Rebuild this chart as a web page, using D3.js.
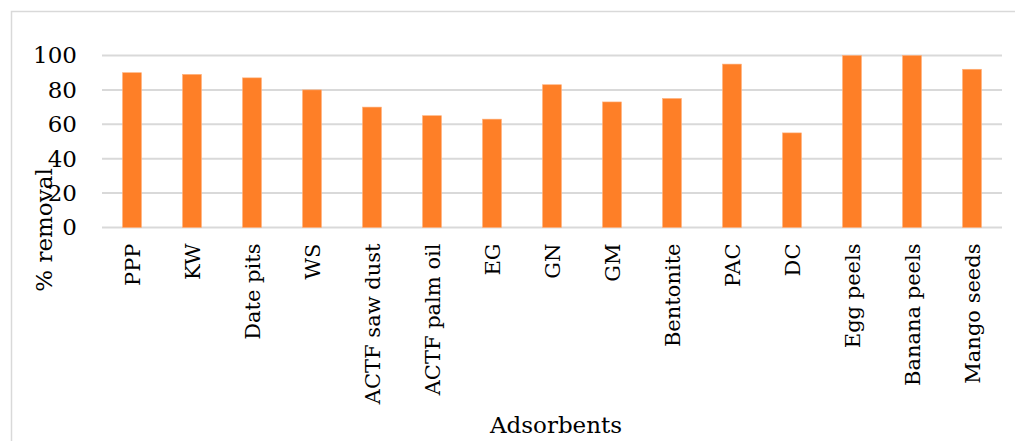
<!DOCTYPE html>
<html>
<head>
<meta charset="utf-8">
<script src="https://cdn.jsdelivr.net/npm/d3@7"></script>
<style>
  body { margin: 0; background: #fff; }
  text { font-family: "DejaVu Serif", serif; fill: #000; }
</style>
</head>
<body>
<svg id="chart" width="1015" height="441"></svg>
<script>
const categories = ["PPP", "KW", "Date pits", "WS", "ACTF saw dust", "ACTF palm oil", "EG", "GN",
    "GM", "Bentonite", "PAC", "DC", "Egg peels", "Banana peels", "Mango seeds"];
const removal = [90, 89, 87, 80, 70, 65, 63, 83, 73, 75, 95, 55, 100, 100, 92];
const yTicks = [0, 20, 40, 60, 80, 100];

const svg = d3.select("#chart");
const margin = {left: 102, right: 13, top: 55.5, bottom: 213.5};
const W = 1015, H = 441;

// outer chart border (runs off the right/bottom edge)
svg.append("rect")
    .attr("x", 11.5).attr("y", 11.5)
    .attr("width", 1010).attr("height", 440)
    .attr("fill", "none")
    .attr("stroke", "#d9d9d9")
    .attr("stroke-width", 1.5);

const x = d3.scaleBand()
    .domain(categories)
    .range([margin.left, W - margin.right])
    .paddingInner(0.685)
    .paddingOuter(0.3425);

const y = d3.scaleLinear()
    .domain([0, 100])
    .range([H - margin.bottom, margin.top]);

// gridlines
svg.append("g")
    .selectAll("line")
    .data(yTicks)
    .join("line")
    .attr("x1", margin.left).attr("x2", W - margin.right)
    .attr("y1", d => y(d)).attr("y2", d => y(d))
    .attr("stroke", "#d9d9d9")
    .attr("stroke-width", 2);

// bars
svg.append("g")
    .selectAll("rect")
    .data(categories)
    .join("rect")
    .attr("x", d => x(d))
    .attr("width", x.bandwidth())
    .attr("y", (d, i) => y(removal[i]))
    .attr("height", (d, i) => y(0) - y(removal[i]))
    .attr("fill", "#fe7f27")
    .attr("stroke", "#ffb07a")
    .attr("stroke-width", 0.6);

// y axis labels
const yAxis = d3.axisLeft(y).tickValues(yTicks).tickSize(0).tickPadding(0);
svg.append("g")
    .attr("transform", `translate(77,0)`)
    .call(yAxis)
    .call(g => g.select(".domain").remove())
    .selectAll("text")
    .attr("font-size", 23)
    .attr("font-family", "Liberation Serif")
    .attr("fill", "#000");

// x axis labels, rotated
const xAxis = d3.axisBottom(x).tickSize(0).tickPadding(0);
svg.append("g")
    .attr("transform", `translate(0,${y(0)})`)
    .call(xAxis)
    .call(g => g.select(".domain").remove())
    .selectAll("text")
    .attr("font-size", 21)
    .attr("font-family", "DejaVu Serif")
    .attr("fill", "#000")
    .attr("text-anchor", "end")
    .attr("transform", "rotate(-90)")
    .attr("x", -16)
    .attr("y", 0)
    .attr("dy", "0.36em");

// axis titles
svg.append("text")
    .attr("transform", "translate(52,230) rotate(-90)")
    .attr("text-anchor", "middle")
    .attr("font-size", 23)
    .text("% removal");

svg.append("text")
    .attr("x", 556).attr("y", 433)
    .attr("text-anchor", "middle")
    .attr("font-size", 23)
    .text("Adsorbents");
</script>
</body>
</html>
